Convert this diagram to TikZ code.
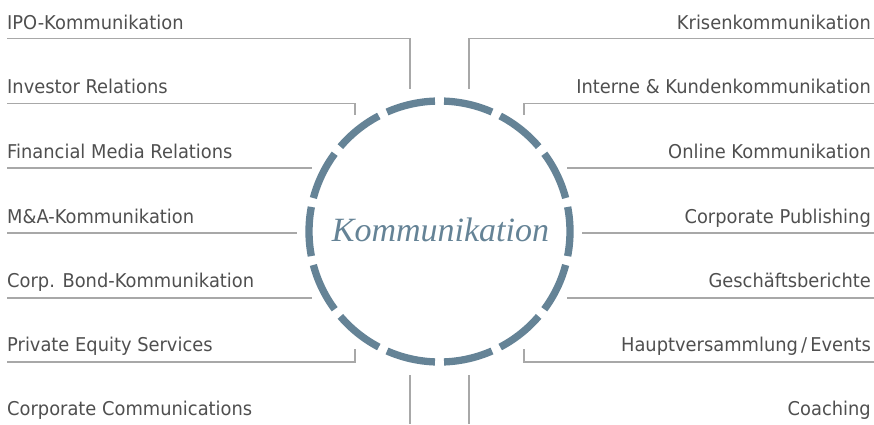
\documentclass[tikz,border=0pt]{standalone}
\usepackage{fontspec}
\setmainfont{DejaVu Sans}[FakeStretch=0.94]
\newfontfamily\kfont{Liberation Serif}
\definecolor{ringc}{HTML}{658396}
\definecolor{txt}{HTML}{4F4F4F}
\definecolor{rulec}{HTML}{A8A8A8}
\begin{document}
\begin{tikzpicture}[x=1pt,y=1pt,
  lbl/.style={inner sep=0pt, font=\fontsize{19}{22}\selectfont, text=txt},
  lw/.style={lbl, anchor=base west},
  le/.style={lbl, anchor=base east},
  conn/.style={draw=rulec, line width=1.3pt},
  ringseg/.style={draw=ringc, line width=7.3pt}]
\useasboundingbox (0,0) rectangle (874,-424);
\coordinate (c) at (439.5,-231.5);
\node[inner sep=0pt, font=\kfont\itshape\fontsize{34}{40}\selectfont, text=ringc] (circ) at (440.5,-230) {Kommunikation};
\foreach \k in {0,...,13} {
  \pgfmathsetmacro\s{12.857+\k*25.714+2}
  \pgfmathsetmacro\e{12.857+(\k+1)*25.714-2}
  \draw[ringseg] ([shift={(\s:130.5)}]c) arc[start angle=\s, end angle=\e, radius=130.5];
}
% left labels
\node[lw] (l0) at (7,-29.5) {IPO-Kommunikation};
\node[lw] (l1) at (7,-93.5) {Investor Relations};
\node[lw] (l2) at (7,-158) {Financial Media Relations};
\node[lw] (l3) at (7,-223) {M\&A-Kommunikation};
\node[lw] (l4) at (7,-287) {Corp. Bond-Kommunikation};
\node[lw] (l5) at (7,-351) {Private Equity Services};
\node[lw] (l6) at (7,-415) {Corporate Communications};
% right labels
\node[le] (r0) at (871,-29.5) {Krisenkommunikation};
\node[le] (r1) at (871,-93.5) {Interne \& Kundenkommunikation};
\node[le] (r2) at (871,-158) {Online Kommunikation};
\node[le] (r3) at (871,-223) {Corporate Publishing};
\node[le] (r4) at (871,-287) {Geschäftsberichte};
\node[le] (r5) at (871,-351) {Hauptversammlung\,/\,Events};
\node[le] (r6) at (871,-415) {Coaching};
% connector coordinates, left
\coordinate (l0s) at (7,-38.3);  \coordinate (l0c) at (410,-38.3);  \coordinate (l0e) at (410,-89);
\coordinate (l1s) at (7,-103.3); \coordinate (l1c) at (355,-103.3); \coordinate (l1e) at (355,-115);
\coordinate (l2s) at (7,-168);   \coordinate (l2e) at (311.5,-168);
\coordinate (l3s) at (7,-233);   \coordinate (l3e) at (296.5,-233);
\coordinate (l4s) at (7,-298);   \coordinate (l4e) at (312,-298);
\coordinate (l5s) at (7,-362);   \coordinate (l5c) at (355,-362);   \coordinate (l5e) at (355,-349);
\coordinate (l6s) at (410,-375); \coordinate (l6e) at (410,-424);
% right
\coordinate (r0s) at (874,-38.3);  \coordinate (r0c) at (469,-38.3);  \coordinate (r0e) at (469,-89);
\coordinate (r1s) at (874,-103.3); \coordinate (r1c) at (524,-103.3); \coordinate (r1e) at (524,-115);
\coordinate (r2s) at (874,-168);   \coordinate (r2e) at (567,-168);
\coordinate (r3s) at (874,-233);   \coordinate (r3e) at (582,-233);
\coordinate (r4s) at (874,-298);   \coordinate (r4e) at (567,-298);
\coordinate (r5s) at (874,-362);   \coordinate (r5c) at (524,-362);   \coordinate (r5e) at (524,-349);
\coordinate (r6s) at (469,-375);   \coordinate (r6e) at (469,-424);
\draw[conn] (l0s) -- (l0c) -- (l0e);
\draw[conn] (l1s) -- (l1c) -- (l1e);
\draw[conn] (l2s) -- (l2e);
\draw[conn] (l3s) -- (l3e);
\draw[conn] (l4s) -- (l4e);
\draw[conn] (l5s) -- (l5c) -- (l5e);
\draw[conn] (l6s) -- (l6e);
\draw[conn] (r0s) -- (r0c) -- (r0e);
\draw[conn] (r1s) -- (r1c) -- (r1e);
\draw[conn] (r2s) -- (r2e);
\draw[conn] (r3s) -- (r3e);
\draw[conn] (r4s) -- (r4e);
\draw[conn] (r5s) -- (r5c) -- (r5e);
\draw[conn] (r6s) -- (r6e);
\end{tikzpicture}
\end{document}
